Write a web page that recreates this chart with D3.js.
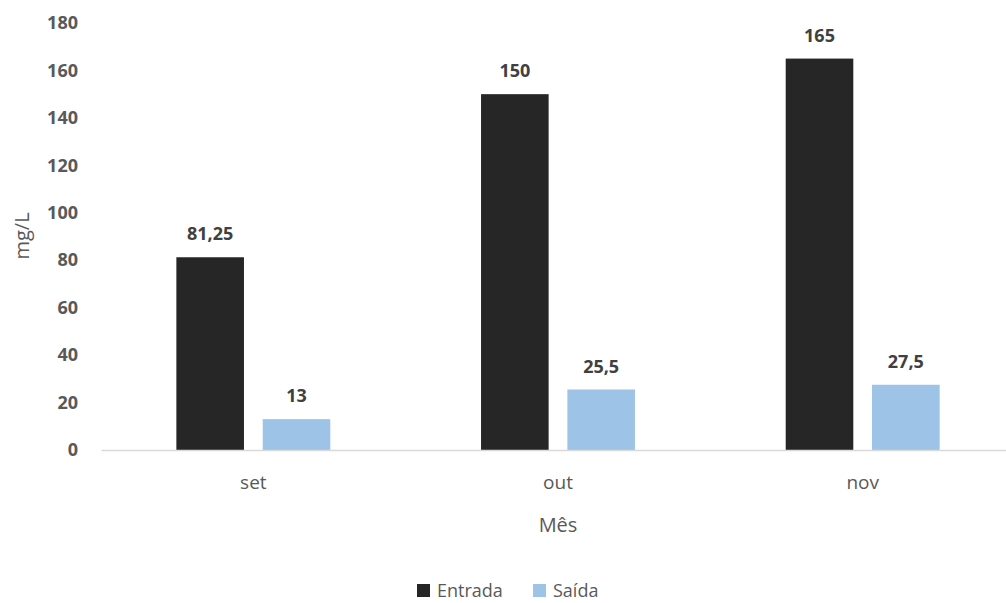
<!DOCTYPE html>
<html>
<head>
<meta charset="utf-8">
<script src="https://cdn.jsdelivr.net/npm/d3@7"></script>
<style>
  body { margin: 0; background: #fff; }
  text { font-family: "Open Sans", sans-serif; }
</style>
</head>
<body>
<div id="chart"></div>
<script>
var width = 1006,
    height = 603;

// data
var months = ["set", "out", "nov"];
var series = ["Entrada", "Saída"];
var entrada = [81.25, 150, 165];
var saida = [13, 25.5, 27.5];
var entradaLabels = ["81,25", "150", "165"];
var saidaLabels = ["13", "25,5", "27,5"];
var yTicks = [0, 20, 40, 60, 80, 100, 120, 140, 160, 180];
var colors = ["#262626", "#9dc3e6"];

var rows = months.map(function(m, i) {
  return [
    {month: m, key: series[0], value: entrada[i], label: entradaLabels[i]},
    {month: m, key: series[1], value: saida[i], label: saidaLabels[i]}
  ];
});

var svg = d3.select("#chart").append("svg")
  .attr("width", width)
  .attr("height", height);

//scales
var x0 = d3.scaleBand()
  .domain(months)
  .range([101, 1015])
  .padding(0);
var x1 = d3.scaleBand()
  .domain(series)
  .range([0, x0.bandwidth()])
  .paddingInner(0.217)
  .paddingOuter(0.873);
var yScale = d3.scaleLinear()
  .domain([0, 180])
  .range([450, 23]);
var color = d3.scaleOrdinal().domain(series).range(colors);

//y axis (labels only)
var yAxis = svg.append("g")
  .attr("class", "y-axis")
  .attr("transform", "translate(80,0)")
  .call(d3.axisLeft(yScale).tickValues(yTicks).tickSize(0).tickPadding(2));
yAxis.select(".domain").remove();
yAxis.selectAll("text")
  .attr("fill", "#595959")
  .style("font-size", "18px")
  .style("font-weight", "bold")
  .style("font-family", "Open Sans");

//bars
var groups = svg.append("g").selectAll("g")
  .data(rows)
  .enter().append("g")
    .attr("transform", function(d) { return "translate(" + x0(d[0].month) + ",0)"; });

groups.selectAll("rect")
  .data(function(d) { return d; })
  .enter().append("rect")
    .attr("x", function(d) { return x1(d.key); })
    .attr("y", function(d) { return yScale(d.value); })
    .attr("width", x1.bandwidth())
    .attr("height", function(d) { return yScale(0) - yScale(d.value); })
    .attr("fill", function(d) { return color(d.key); });

groups.selectAll("text")
  .data(function(d) { return d; })
  .enter().append("text")
    .attr("x", function(d) { return x1(d.key) + x1.bandwidth() / 2; })
    .attr("y", function(d) { return yScale(d.value) - 17; })
    .attr("text-anchor", "middle")
    .attr("fill", "#404040")
    .style("font-size", "18px")
    .style("font-weight", "bold")
    .text(function(d) { return d.label; });

//x axis
var xAxis = svg.append("g")
  .attr("class", "x-axis")
  .attr("transform", "translate(0," + yScale(0) + ")")
  .call(d3.axisBottom(x0).tickSize(0).tickPadding(26));
xAxis.select(".domain").attr("stroke", "#d9d9d9").attr("stroke-width", 1.5);
xAxis.selectAll("text")
  .attr("fill", "#595959")
  .style("font-size", "19px")
  .style("font-family", "Open Sans");

//axis titles
svg.append("text")
  .attr("text-anchor", "middle")
  .attr("x", 558)
  .attr("y", 532)
  .attr("fill", "#595959")
  .style("font-size", "20px")
  .text("Mês");
svg.append("text")
  .attr("text-anchor", "middle")
  .attr("transform", "translate(29,236) rotate(-90)")
  .attr("fill", "#595959")
  .style("font-size", "20px")
  .text("mg/L");

//legend
var legend = svg.append("g").attr("class", "legend");
var legendX = [417, 533];
series.forEach(function(s, i) {
  legend.append("rect")
    .attr("x", legendX[i])
    .attr("y", 584)
    .attr("width", 13)
    .attr("height", 13)
    .attr("fill", colors[i]);
  legend.append("text")
    .attr("x", legendX[i] + 20)
    .attr("y", 597)
    .attr("fill", "#595959")
    .style("font-size", "18px")
    .text(s);
});
</script>
</body>
</html>
